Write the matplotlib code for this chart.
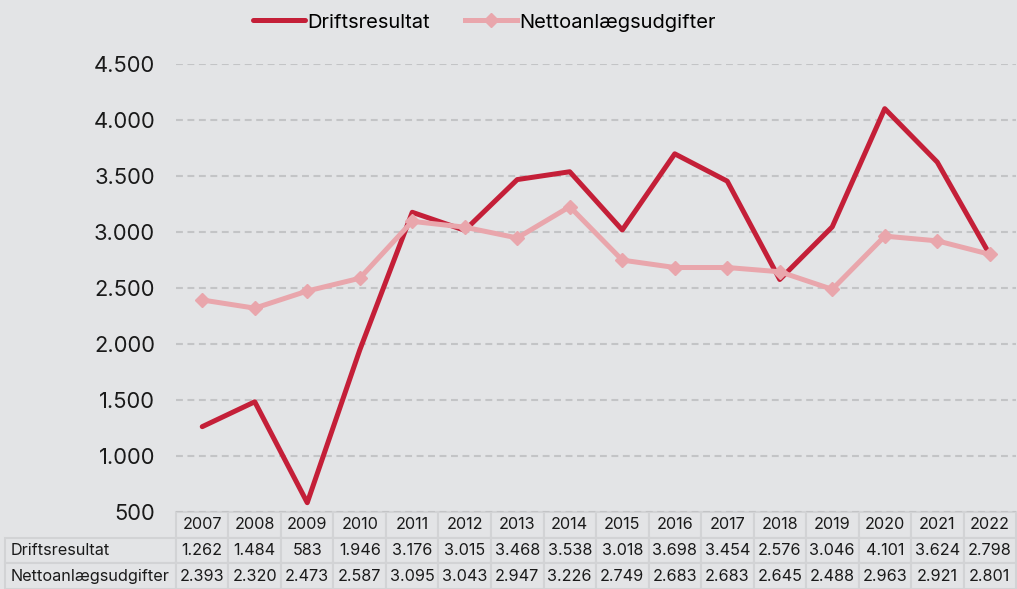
import matplotlib.pyplot as plt
from matplotlib.table import Table

plt.rcParams['font.family'] = ['Inter', 'DejaVu Sans']

# data
years = ['2007', '2008', '2009', '2010', '2011', '2012', '2013', '2014',
         '2015', '2016', '2017', '2018', '2019', '2020', '2021', '2022']
drift = [1262, 1484, 583, 1946, 3176, 3015, 3468, 3538,
         3018, 3698, 3454, 2576, 3046, 4101, 3624, 2798]
netto = [2393, 2320, 2473, 2587, 3095, 3043, 2947, 3226,
         2749, 2683, 2683, 2645, 2488, 2963, 2921, 2801]
series_names = ['Driftsresultat', 'Nettoanlægsudgifter']
yticks = [500, 1000, 1500, 2000, 2500, 3000, 3500, 4000, 4500]

bg = '#e3e4e6'
red = '#c41f38'
pink = '#e9a6ac'
edge = '#d2d3d5'


def fmt(v):
    return f'{v:,}'.replace(',', '.')


fig = plt.figure(figsize=(10.17, 5.89), dpi=100, facecolor=bg)
ax = fig.add_axes([176 / 1017, 1 - 512 / 589, 840 / 1017, 448 / 589])
ax.set_facecolor(bg)

x = range(len(years))
ax.plot(x, drift, color=red, lw=3.6, solid_capstyle='round', label=series_names[0])
ax.plot(x, netto, color=pink, lw=3.6, marker='D', ms=7.5, label=series_names[1])

ax.set_xlim(-0.5, len(years) - 0.5)
ax.set_ylim(500, 4500)
ax.set_yticks(yticks)
ax.set_yticklabels([fmt(v) for v in yticks], fontsize=15.8, color='#1a1a1a')
ax.tick_params(axis='y', length=0, pad=15)
ax.set_xticks([])
ax.grid(axis='y', color='#c3c4c6', lw=1.5, dashes=(3.3, 2.2))
ax.set_axisbelow(True)
for s in ax.spines.values():
    s.set_visible(False)

# data table below the plot (bbox covers the year columns; labels sit to the left)
tbl = Table(ax, bbox=[0, -77 / 448, 1, 77 / 448])
lab_w = 171 / 840
col_w = 1 / len(years)
h = 1 / 3
for j, yr in enumerate(years):
    tbl.add_cell(0, j, col_w, h, text=yr, loc='center', facecolor=bg, edgecolor=edge)
for i, (name, vals) in enumerate(zip(series_names, [drift, netto]), start=1):
    tbl.add_cell(i, -1, lab_w, h, text=name, loc='left', facecolor=bg, edgecolor=edge)
    for j, v in enumerate(vals):
        tbl.add_cell(i, j, col_w, h, text=fmt(v), loc='center', facecolor=bg, edgecolor=edge)
tbl.auto_set_font_size(False)
tbl.set_fontsize(11.7)
for c in tbl.get_celld().values():
    c.set_linewidth(1.5)
    c.get_text().set_color('#1a1a1a')
    c.PAD = 0.03
ax.add_table(tbl)

fig.legend(loc='upper center', bbox_to_anchor=(0.476, 1.008), ncol=2, frameon=False,
           fontsize=14.5, handlelength=2.6, handletextpad=0.1, columnspacing=1.75)

fig.savefig('out.png', dpi=100, facecolor=bg)
